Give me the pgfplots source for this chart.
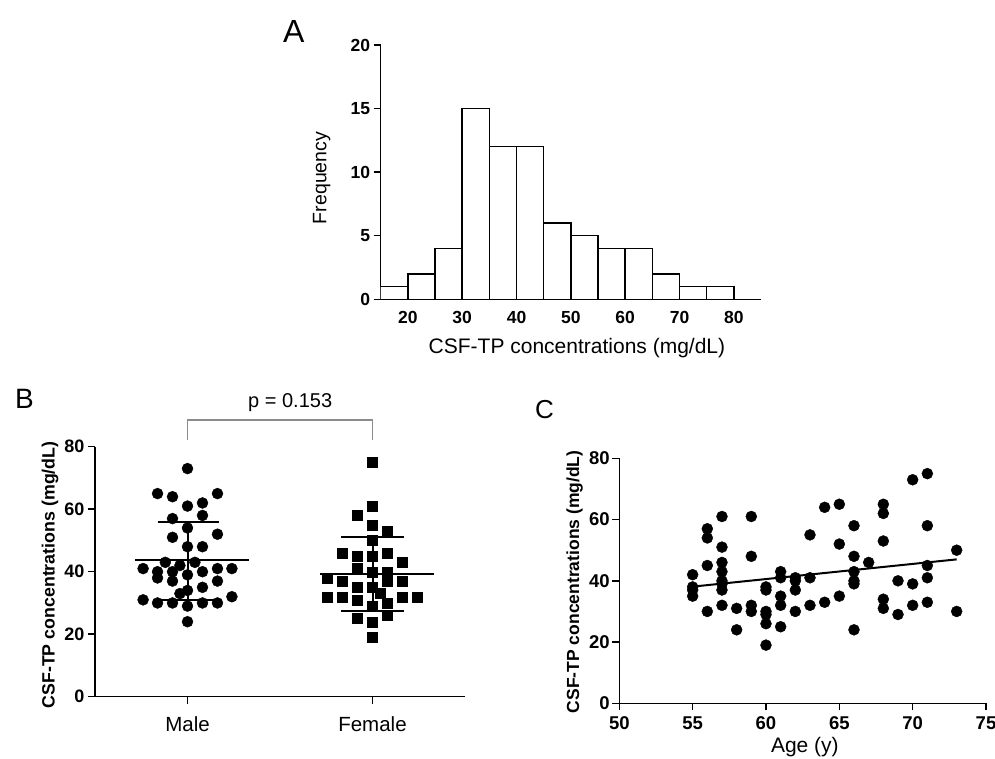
\documentclass[border=0pt]{standalone}
\usepackage{fontspec}
\setmainfont{Liberation Sans}
\usepackage{pgfplots}
\pgfplotsset{compat=1.18}

\definecolor{brk}{HTML}{8C8C8C}

\pgfplotsset{
  panel/.style={
    scale only axis,
    axis x line*=bottom, axis y line*=left,
    axis line style={line width=1.5pt, black},
    tick style={line width=1.5pt, black},
    tick align=outside,
    major tick length=7pt,
    /pgf/number format/assume math mode=true,
    anchor=south west,
  },
}

\begin{document}
\begin{tikzpicture}
\useasboundingbox (0pt,0pt) rectangle (995pt,-758pt);

% A: histogram
\begin{axis}[panel,
    at={(380.7pt,-299.3pt)}, width=380.3pt, height=254.3pt,
    xmin=15, xmax=85, ymin=0, ymax=20,
    xtick={20,30,...,80}, ytick={0,5,...,20},
    x tick style={draw=none},
    tick label style={font=\fontsize{17.5}{19}\selectfont\bfseries},
    xticklabel style={yshift=-1pt},
    xlabel={CSF-TP concentrations (mg/dL)},
    ylabel={Frequency},
    label style={font=\fontsize{21}{24}\selectfont},
    xlabel style={at={(axis description cs:0.516,-0.212)}, anchor=base},
    ylabel style={at={(axis description cs:-0.155,0.477)}, anchor=center, font=\fontsize{19.5}{22}\selectfont},
]
\addplot[ybar interval, fill=white, draw=black, line width=1.5pt] coordinates {
  (15,1) (20,2) (25,4) (30,15) (35,12) (40,12) (45,6) (50,5)
  (55,4) (60,4) (65,2) (70,1) (75,1) (80,1)
};
\end{axis}

% B: scatter by sex
\begin{axis}[panel,
    at={(95pt,-696.7pt)}, width=370pt, height=250pt,
    xmin=-0.5, xmax=1.5, ymin=0, ymax=80,
    xtick={0,1}, xticklabels={Male,Female},
    ytick={0,20,...,80},
    yticklabel style={font=\fontsize{18}{20}\selectfont\bfseries},
    xticklabel style={font=\fontsize{20.5}{23}\selectfont, yshift=-9pt},
    ylabel={CSF-TP concentrations (mg/dL)},
    ylabel style={at={(axis description cs:-0.1216,0.487)}, anchor=center, font=\fontsize{17.8}{20}\selectfont\bfseries},
    clip=false,
]
\addplot[only marks, mark=*, mark size=5.5pt, black] coordinates {
  (0,73) (-0.162,65) (-0.081,64) (0.162,65) (0.081,62) (0,61)
  (-0.081,57) (0.081,58) (0,54) (0.162,52) (-0.081,51) (0,48) (0.081,48)
  (-0.12,43) (-0.041,42) (0.04,43) (-0.24,41) (0.162,41) (0.240,41)
  (-0.162,40) (-0.081,40) (0,39) (0.081,40) (-0.162,38) (-0.081,37)
  (0.162,37) (0.081,35) (0,34) (-0.041,33) (-0.24,31) (0.240,32)
  (-0.162,30) (-0.081,30) (0.081,30) (0.162,30) (0,29) (0,24)
};
\addplot[only marks, mark=square*, mark size=5pt, black] coordinates {
  (1,75) (1,61) (0.919,58) (1,55) (1.081,53) (1,50)
  (0.838,46) (0.919,45) (1,45) (1.081,46) (1.162,43)
  (0.919,41) (1,40) (1.081,40) (0.757,38) (0.838,37) (1.081,37) (1.162,37)
  (0.919,35) (1,35) (1.04,33) (0.757,32) (0.838,32) (1.162,32) (1.243,32)
  (0.919,31) (1.081,30) (1,29) (1.081,26) (0.919,25) (1,24) (1,19)
};
% mean and SD
\addplot[black, line width=2pt] coordinates {(-0.283,43.7) (0.333,43.7)};
\addplot[black, line width=2pt] coordinates {(-0.162,56.0) (0.171,56.0)};
\addplot[black, line width=2pt] coordinates {(-0.162,31.1) (0.171,31.1)};
\addplot[black, line width=2pt] coordinates {(0,31.1) (0,56.0)};
\addplot[black, line width=2pt] coordinates {(0.717,39.3) (1.333,39.3)};
\addplot[black, line width=2pt] coordinates {(0.832,51.2) (1.168,51.2)};
\addplot[black, line width=2pt] coordinates {(0.832,27.4) (1.168,27.4)};
\addplot[black, line width=2pt] coordinates {(1,27.4) (1,51.2)};
\draw[brk, line width=1.5pt] (axis cs:0,82.1) -- (axis cs:0,88.5) -- (axis cs:1,88.5) -- (axis cs:1,82.1);
\node[anchor=base, font=\fontsize{20}{22}\selectfont] at (axis cs:0.555,92.4) {p = 0.153};
\end{axis}

% C: age scatter
\begin{axis}[panel,
    at={(619.3pt,-703.3pt)}, width=366.7pt, height=245pt,
    xmin=50, xmax=75, ymin=0, ymax=80,
    xtick={50,55,...,75}, ytick={0,20,...,80},
    tick label style={font=\fontsize{18.5}{20}\selectfont\bfseries},
    xticklabel style={yshift=-3pt},
    yticklabel style={xshift=1pt},
    xlabel={Age (y)},
    ylabel={CSF-TP concentrations (mg/dL)},
    xlabel style={at={(axis description cs:0.506,-0.2)}, anchor=base, font=\fontsize{21}{24}\selectfont},
    ylabel style={at={(axis description cs:-0.1215,0.496)}, anchor=center, font=\fontsize{17.5}{20}\selectfont\bfseries},
    clip=false,
]
\addplot[only marks, mark=*, mark size=5.5pt, black] coordinates {
  (55,42) (55,38) (55,37) (55,35)
  (56,57) (56,54) (56,45) (56,30)
  (57,61) (57,51) (57,46) (57,43) (57,40) (57,39) (57,37) (57,32)
  (58,31) (58,24)
  (59,61) (59,48) (59,32) (59,30)
  (60,38) (60,37) (60,30) (60,29) (60,26) (60,19)
  (61,43) (61,41) (61,35) (61,32) (61,25)
  (62,41) (62,40) (62,37) (62,30)
  (63,55) (63,41) (63,32)
  (64,64) (64,33)
  (65,65) (65,52) (65,35)
  (66,58) (66,48) (66,43) (66,40) (66,39) (66,24)
  (67,46)
  (68,65) (68,62) (68,53) (68,34) (68,31)
  (69,40) (69,29)
  (70,73) (70,39) (70,32)
  (71,75) (71,58) (71,45) (71,41) (71,33)
  (73,50) (73,30)
};
\addplot[black, line width=2pt] coordinates {(55,38.1) (73,47.0)};
\end{axis}

% panel letters
\node[anchor=base west, inner sep=0pt, font=\fontsize{32}{36}\selectfont] at (283pt,-42pt) {A};
\node[anchor=base west, inner sep=0pt, font=\fontsize{28}{32}\selectfont] at (15pt,-408pt) {B};
\node[anchor=base west, inner sep=0pt, font=\fontsize{26}{30}\selectfont] at (535pt,-418pt) {C};
\end{tikzpicture}
\end{document}
